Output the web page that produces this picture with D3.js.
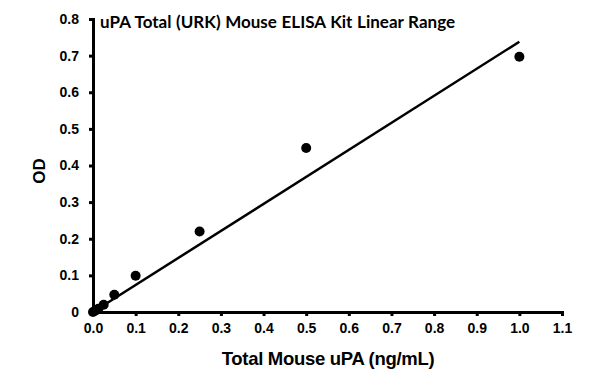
<!DOCTYPE html>
<html><head><meta charset="utf-8">
<script src="https://cdn.jsdelivr.net/npm/d3@7"></script>
<style>body{margin:0;background:#fff}svg{display:block}</style>
</head><body>
<svg id="c" width="595" height="383"></svg>
<script>
const concentrations = [0, 0.00625, 0.0125, 0.025, 0.05, 0.1, 0.25, 0.5, 1.0];
const odValues = [0, 0.004, 0.009, 0.02, 0.047, 0.099, 0.22, 0.448, 0.697];
const fitX = [0, 1.0];
const fitY = [0, 0.738];
const xTicks = [0, 0.1, 0.2, 0.3, 0.4, 0.5, 0.6, 0.7, 0.8, 0.9, 1.0, 1.1];
const yTicks = [0, 0.1, 0.2, 0.3, 0.4, 0.5, 0.6, 0.7, 0.8];
const titleText = "uPA Total (URK) Mouse ELISA Kit Linear Range";
const xLabel = "Total Mouse uPA (ng/mL)";
const yLabel = "OD";

const svg = d3.select("#c");
const x = d3.scaleLinear().domain([0, 1.1]).range([93, 562]);
const y = d3.scaleLinear().domain([0, 0.8]).range([312, 19]);
const font = "'Liberation Sans', Arial, sans-serif";

const xa = svg.append("g").attr("transform", "translate(0,312)")
  .call(d3.axisBottom(x).tickValues(xTicks).tickFormat(d3.format(".1f")).tickSize(4).tickPadding(7));
const ya = svg.append("g").attr("transform", "translate(93,0)")
  .call(d3.axisLeft(y).tickValues(yTicks).tickFormat(d => d === 0 ? "0" : d3.format(".1f")(d)).tickSize(4).tickPadding(10));
[xa, ya].forEach(a => {
  a.select(".domain").attr("stroke", "#000").attr("stroke-width", 3);
  a.selectAll(".tick line").attr("stroke", "#000").attr("stroke-width", 3);
  a.selectAll("text").attr("font-family", font).attr("font-weight", "bold")
    .attr("font-size", 14).attr("fill", "#000");
});

const line = d3.line().x(d => x(d[0])).y(d => y(d[1]));
svg.append("path").datum(fitX.map((v, i) => [v, fitY[i]]))
  .attr("d", line).attr("stroke", "#000").attr("stroke-width", 2.5).attr("fill", "none");

svg.append("g").selectAll("circle").data(concentrations).join("circle")
  .attr("cx", d => x(d)).attr("cy", (d, i) => y(odValues[i])).attr("r", 5).attr("fill", "#000");

svg.append("text").attr("x", 100).attr("y", 28).text(titleText)
  .attr("font-family", "Lato, 'Open Sans', sans-serif").attr("font-weight", "bold")
  .attr("font-size", 17).attr("word-spacing", 0.5).attr("fill", "#000");

svg.append("text").attr("x", 328).attr("y", 365).attr("text-anchor", "middle").text(xLabel)
  .attr("font-family", font).attr("font-weight", "bold").attr("font-size", 18.5)
  .attr("letter-spacing", -0.3).attr("fill", "#000");

svg.append("text").attr("transform", "translate(45,171) rotate(-90)").attr("text-anchor", "middle").text(yLabel)
  .attr("font-family", font).attr("font-weight", "bold").attr("font-size", 17).attr("fill", "#000");
</script>
</body></html>
